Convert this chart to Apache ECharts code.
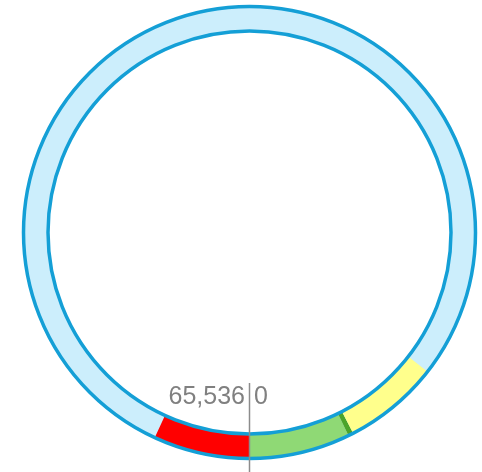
<!DOCTYPE html>
<html>
<head>
<meta charset="utf-8">
<script src="https://cdn.jsdelivr.net/npm/echarts@6/dist/echarts.min.js"></script>
<style>
  html, body { margin: 0; padding: 0; background: #fff; }
  #main { width: 482px; height: 472px; }
</style>
</head>
<body>
<div id="main"></div>
<script>
// sequence length and the features on the ring (start / end positions)
const seqLength = 65536;
const featureStart = [0, 4733, 4970, 61021];
const featureEnd = [4733, 4970, 9466, 65536];
const featureColors = ['#8fd975', '#4ba42a', '#ffff8c', '#ff0000'];
// origin marker
const originPos = [0];
const originLabels = ['65,536', '0'];

const chart = echarts.init(document.getElementById('main'));

const ringBlue = '#149fd6';

// sector between two sequence positions, angles taken from the angle axis
function arcItem(params, api, from, to, fill) {
  const cs = params.coordSys;
  const ang = v => {
    const p = api.coord([0, v]);
    return Math.atan2(p[1] - cs.cy, p[0] - cs.cx);
  };
  const a0 = ang(from);
  let a1 = ang(to);
  // positions run counter-clockwise on screen, so angles go down
  if (a1 >= a0) a1 -= Math.PI * 2;
  return {
    type: 'sector',
    shape: { cx: cs.cx, cy: cs.cy, r0: cs.r0, r: cs.r, startAngle: a0, endAngle: a1, clockwise: false },
    style: { fill: fill }
  };
}

const series = [
  // background track
  {
    type: 'custom', coordinateSystem: 'polar', silent: true, z: 1,
    data: [[0, 0, seqLength]],
    renderItem: (params, api) => arcItem(params, api, api.value(1), api.value(2), '#cceefc')
  },
  // features
  {
    type: 'custom', coordinateSystem: 'polar', silent: true, z: 2,
    data: featureStart.map((s, i) => [0, s, featureEnd[i], i]),
    renderItem: (params, api) =>
      arcItem(params, api, api.value(1), api.value(2), featureColors[api.value(3)])
  },
  // track outlines
  {
    type: 'custom', coordinateSystem: 'polar', silent: true, z: 3,
    data: [[0, 0]],
    renderItem: function (params) {
      const cs = params.coordSys;
      const ring = r => ({ type: 'circle', shape: { cx: cs.cx, cy: cs.cy, r: r },
        style: { fill: null, stroke: ringBlue, lineWidth: 3.5 } });
      return { type: 'group', children: [ring(cs.r), ring(cs.r0)] };
    }
  },
  // origin tick line and the two labels either side of it
  {
    type: 'custom', coordinateSystem: 'polar', silent: true, z: 10,
    data: originPos.map(p => [0, p]),
    renderItem: function (params, api) {
      const cs = params.coordSys;
      const p = api.coord([0, api.value(1)]);
      const dx = p[0] - cs.cx, dy = p[1] - cs.cy;
      const len = Math.sqrt(dx * dx + dy * dy);
      const ux = dx / len, uy = dy / len;
      const at = r => [cs.cx + ux * r, cs.cy + uy * r];
      const a = at(150.5), b = at(260), t = at(164.5);
      const font = '25px "Liberation Sans", Arial, sans-serif';
      return {
        type: 'group',
        children: [
          { type: 'line', shape: { x1: a[0], y1: a[1], x2: b[0], y2: b[1] },
            style: { stroke: '#8c8c8c', lineWidth: 1.5 } },
          { type: 'text', style: { x: t[0] - 4.5, y: t[1], text: originLabels[0], font: font,
              fill: '#808080', align: 'right', verticalAlign: 'middle' } },
          { type: 'text', style: { x: t[0] + 4.5, y: t[1], text: originLabels[1], font: font,
              fill: '#808080', align: 'left', verticalAlign: 'middle' } }
        ]
      };
    }
  }
];

chart.setOption({
  animation: false,
  polar: { center: [249.5, 232.5], radius: [201.5, 226] },
  angleAxis: {
    type: 'value', min: 0, max: seqLength, startAngle: -90, clockwise: false,
    axisTick: { show: false }, axisLabel: { show: false },
    splitLine: { show: false }, axisLine: { show: false }
  },
  radiusAxis: { type: 'category', data: ['ring'], show: false },
  series: series
});

window.addEventListener('resize', () => chart.resize());
</script>
</body>
</html>
